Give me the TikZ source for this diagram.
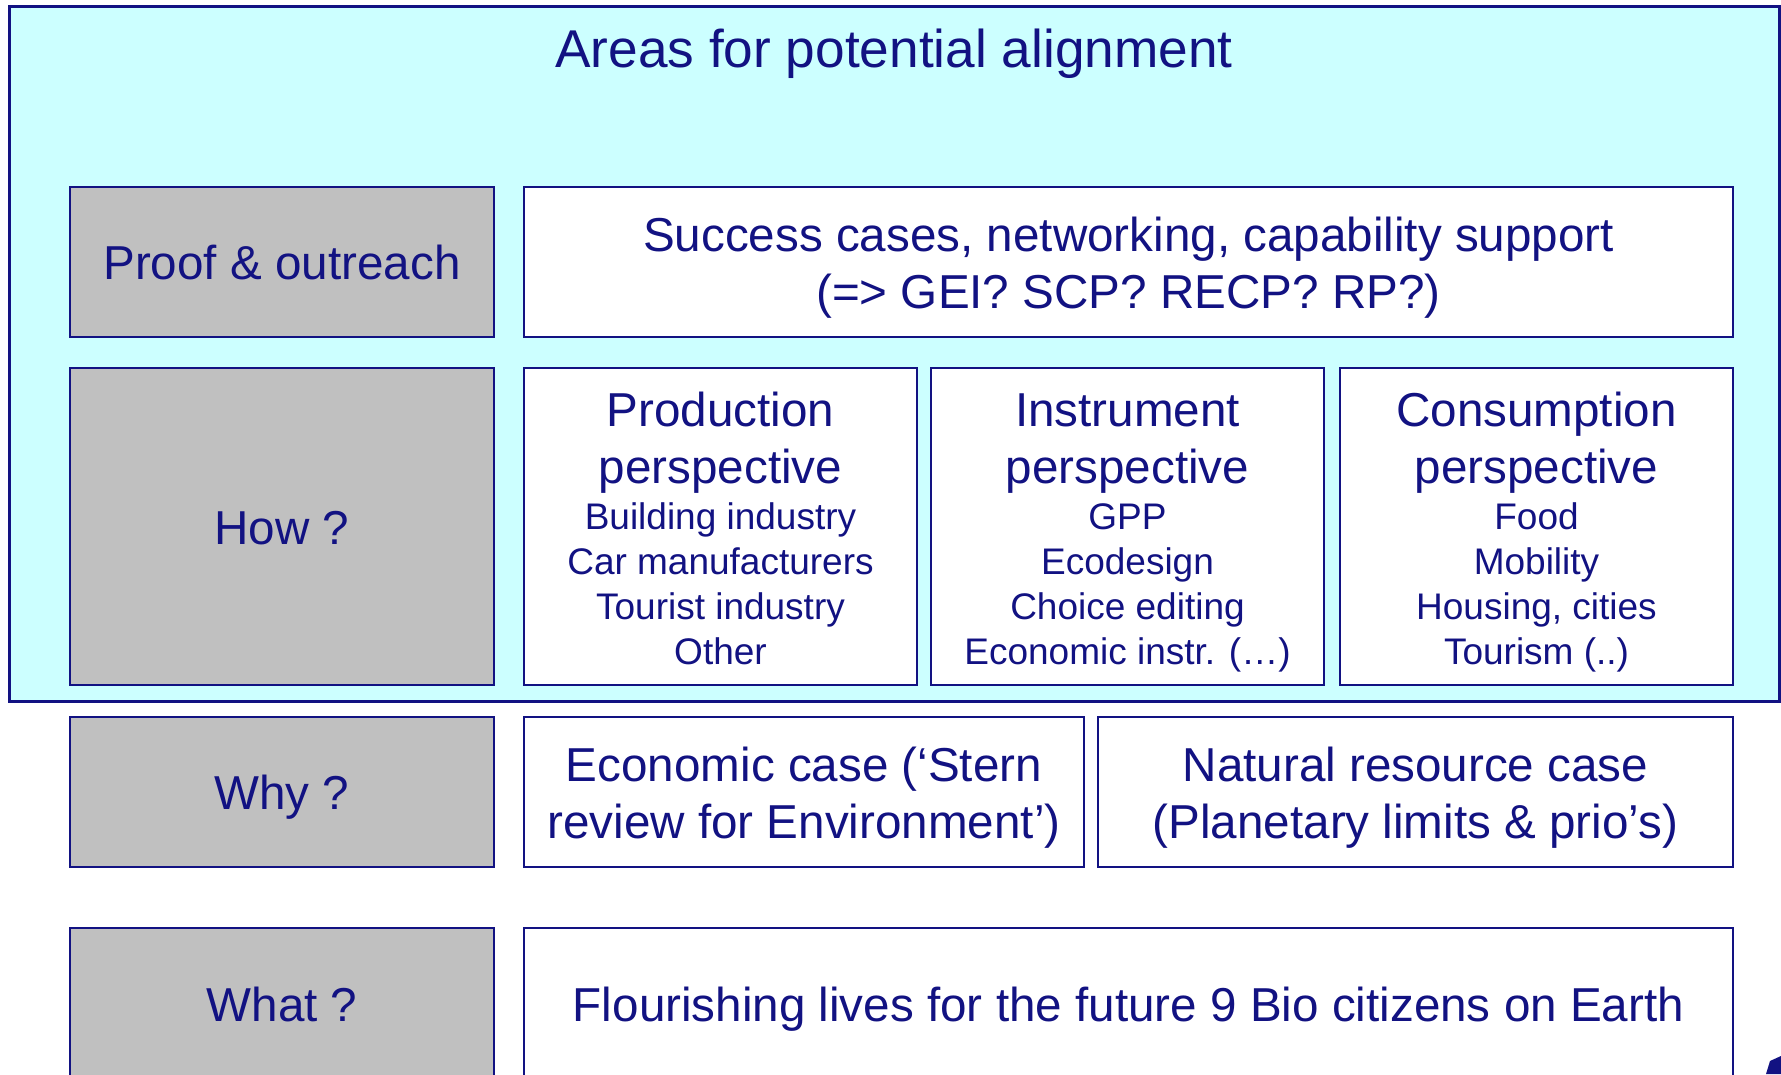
\documentclass[tikz,border=0pt]{standalone}
\usepackage{fontspec}
\setmainfont{Liberation Sans}
\definecolor{navy}{RGB}{18,18,130}
\definecolor{cyanfill}{RGB}{204,255,255}
\definecolor{grayfill}{RGB}{192,192,192}
\begin{document}
\begin{tikzpicture}[x=1pt,y=-1pt,
  box/.style={draw=navy, line width=2.5pt, rectangle, inner sep=0pt, outer sep=0pt},
  graybox/.style={box, fill=grayfill},
  whitebox/.style={box, fill=white},
  titletxt/.style={text=navy, font=\fontsize{53.2}{64}\selectfont, inner sep=0pt, anchor=base},
  bigtxt/.style={text=navy, font=\fontsize{47.6}{57}\selectfont, inner sep=0pt, anchor=base},
  smalltxt/.style={text=navy, font=\fontsize{37}{45}\selectfont, inner sep=0pt, anchor=base}]
\useasboundingbox (0,0) rectangle (1781,1074);
\clip (0,0) rectangle (1781,1074);
\fill[white] (0,0) rectangle (1781,1074);
% background area
\node[box, fill=cyanfill, line width=3pt, minimum width=1770, minimum height=695] (area) at (894,353.5) {};
\node[titletxt] (title) at (894,67) {Areas for potential alignment};
% row: proof
\node[graybox, minimum width=424, minimum height=150] (proof) at (282,262) {};
\node[bigtxt] (prooft) at (282,279) {Proof \& outreach};
\node[whitebox, minimum width=1209, minimum height=150] (success) at (1128.5,262) {};
\node[bigtxt] (success1) at (1128.5,251) {Success cases, networking, capability support};
\node[bigtxt] (success2) at (1128.5,308) {(=> GEI? SCP? RECP? RP?)};
% row: how
\node[graybox, minimum width=424, minimum height=317] (how) at (282,526.5) {};
\node[bigtxt] (howt) at (282,544) {How ?};
\node[whitebox, minimum width=393, minimum height=317] (prod) at (720.5,526.5) {};
\node[whitebox, minimum width=393, minimum height=317] (instr) at (1127.5,526.5) {};
\node[whitebox, minimum width=393, minimum height=317] (cons) at (1536.5,526.5) {};
\node[bigtxt] (prodh1) at (720.5,426) {Production};
\node[bigtxt] (prodh2) at (720.5,483) {perspective};
\node[smalltxt] (prod1) at (720.5,529) {Building industry};
\node[smalltxt] (prod2) at (720.5,574) {Car manufacturers};
\node[smalltxt] (prod3) at (720.5,619) {Tourist industry};
\node[smalltxt] (prod4) at (720.5,664) {Other};
\node[bigtxt] (instrh1) at (1127.5,426) {Instrument};
\node[bigtxt] (instrh2) at (1127.5,483) {perspective};
\node[smalltxt] (instr1) at (1127.5,529) {GPP};
\node[smalltxt] (instr2) at (1127.5,574) {Ecodesign};
\node[smalltxt] (instr3) at (1127.5,619) {Choice editing};
\node[smalltxt] (instr4) at (1127.5,664) {Economic instr. (…)};
\node[bigtxt] (consh1) at (1536.5,426) {Consumption};
\node[bigtxt] (consh2) at (1536.5,483) {perspective};
\node[smalltxt] (cons1) at (1536.5,529) {Food};
\node[smalltxt] (cons2) at (1536.5,574) {Mobility};
\node[smalltxt] (cons3) at (1536.5,619) {Housing, cities};
\node[smalltxt] (cons4) at (1536.5,664) {Tourism (..)};
% row: why
\node[graybox, minimum width=424, minimum height=150] (why) at (282,792) {};
\node[bigtxt] (whyt) at (282,809) {Why ?};
\node[whitebox, minimum width=560, minimum height=150] (econ) at (804,792) {};
\node[bigtxt] (econ1) at (804,781) {Economic case (‘Stern};
\node[bigtxt] (econ2) at (804,838) {review for Environment’)};
\node[whitebox, minimum width=635, minimum height=150] (nat) at (1415.5,792) {};
\node[bigtxt] (nat1) at (1415.5,781) {Natural resource case};
\node[bigtxt] (nat2) at (1415.5,838) {(Planetary limits \& prio’s)};
% row: what
\node[graybox, minimum width=424, minimum height=182] (what) at (282,1019) {};
\node[bigtxt] (whatt) at (282,1021) {What ?};
\node[whitebox, minimum width=1209, minimum height=182] (flour) at (1128.5,1019) {};
\node[bigtxt] (flourt) at (1128.5,1021) {Flourishing lives for the future 9 Bio citizens on Earth};
% partial shape at the lower right corner
\fill[navy] (1766,1074) -- (1770,1061) -- (1781,1056) -- (1781,1074) -- cycle;
\end{tikzpicture}
\end{document}
